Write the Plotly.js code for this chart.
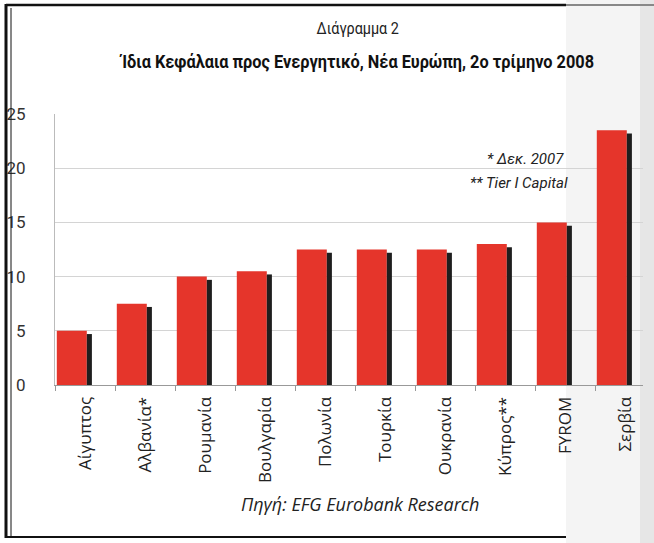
<!DOCTYPE html>
<html><head><meta charset="utf-8">
<script src="https://cdn.plot.ly/plotly-3.0.1.min.js"></script>
<style>body{margin:0;background:#fff}#c{width:654px;height:543px}</style>
</head><body><div id="c"></div>
<script>
const categories = ['Αίγυπτος','Αλβανία*','Ρουμανία','Βουλγαρία','Πολωνία','Τουρκία','Ουκρανία','Κύπρος**','FYROM','Σερβία'];
const values = [5.0, 7.5, 10.0, 10.5, 12.5, 12.5, 12.5, 13.0, 15.0, 23.5];
const yTicks = [0, 5, 10, 15, 20, 25];

const W = 654, H = 543;
const L = 55, R = 643, T = 114, B = 385;
const px = X => (X - L) / (R - L);
const py = Y => (B - Y) / (B - T);
const narrow = 'Roboto, "Liberation Sans", Arial, sans-serif';

const shadow = {
  type: 'bar', x: categories, y: values.map(v => v - 0.3),
  offset: 0.03, width: 0.085,
  marker: {color: '#1e1e1e', line: {width: 0}}, hoverinfo: 'skip'
};
const red = {
  type: 'bar', x: categories, y: values,
  offset: -0.47, width: 0.5,
  marker: {color: '#e5352b', line: {width: 0}}
};

const line = (x0, y0, x1, y1, w, c) => ({type: 'line', xref: 'paper', yref: 'paper',
  x0: px(x0), y0: py(y0), x1: px(x1), y1: py(y1), line: {color: c || '#111', width: w}});
const shapes = [
  {type: 'rect', xref: 'paper', yref: 'paper', x0: px(566), x1: px(654), y0: py(543), y1: py(0), fillcolor: '#f4f4f4', line: {width: 0}, layer: 'below'},
  {type: 'rect', xref: 'paper', yref: 'paper', x0: px(640), x1: px(654), y0: py(543), y1: py(0), fillcolor: '#e6e6e6', line: {width: 0}, layer: 'below'},
  line(6, 4, 6, 538, 3),
  line(11, 8, 11, 536, 1),
  line(6, 5, 566, 5, 2.5),
  line(6, 537, 566, 537, 2),
  line(566, 5, 654, 5, 2, '#888')
];

const annotations = [
  {text: 'Διάγραμμα 2', xref: 'paper', yref: 'paper', x: px(358), y: py(17), showarrow: false,
   font: {family: narrow, size: 16, color: '#222'}},
  {text: 'Ίδια Κεφάλαια προς Ενεργητικό, Νέα Ευρώπη, 2ο τρίμηνο 2008', xref: 'paper', yref: 'paper',
   x: px(356), y: py(48), showarrow: false, font: {family: narrow, size: 19, weight: 'bold', color: '#111'}},
  {text: '<i>* Δεκ. 2007</i>', xref: 'paper', yref: 'paper', x: px(566), y: py(148), xanchor: 'right', showarrow: false,
   font: {family: narrow, size: 15, color: '#222'}},
  {text: '<i>** Tier I Capital</i>', xref: 'paper', yref: 'paper', x: px(570), y: py(172), xanchor: 'right', showarrow: false,
   font: {family: narrow, size: 15, color: '#222'}},
  {text: '<i>Πηγή: EFG Eurobank Research</i>', xref: 'paper', yref: 'paper', x: px(360), y: py(518), showarrow: false,
   font: {family: '"Open Sans", "Noto Sans", sans-serif', size: 18, color: '#222'}}
];

const layout = {
  width: W, height: H,
  margin: {l: L, r: W - R, t: T, b: H - B, pad: 0},
  paper_bgcolor: '#fff', plot_bgcolor: '#fff',
  barmode: 'overlay', showlegend: false,
  xaxis: {type: 'category', range: [-0.5, 9.3], tickangle: -90, tickson: 'boundaries',
    ticks: 'outside', ticklen: 5, tickcolor: '#999', showgrid: false,
    showline: true, linecolor: '#999', linewidth: 1,
    tickfont: {family: '"Open Sans", "Noto Sans", sans-serif', size: 17, color: '#222'}, ticklabelstandoff: 4},
  yaxis: {range: [0, 25], tickvals: yTicks, showgrid: true, gridcolor: '#d4d4d4', gridwidth: 1,
    showline: true, linecolor: '#bbb', zeroline: false, ticks: '',
    tickfont: {family: narrow, size: 17, color: '#333'}, ticklabelstandoff: 25},
  shapes: shapes, annotations: annotations
};
Plotly.newPlot('c', [red, shadow], layout, {displayModeBar: false, staticPlot: true}).then(gd => {
  const anns = gd.querySelectorAll('.annotation-text');
  const squeeze = (el, f) => { if (!el) return; el.style.transformBox = 'fill-box'; el.style.transformOrigin = 'center'; el.style.transform = 'scaleX(' + f + ')'; };
  squeeze(anns[0], 0.9);
  squeeze(anns[1], 0.86);
});
</script></body></html>
